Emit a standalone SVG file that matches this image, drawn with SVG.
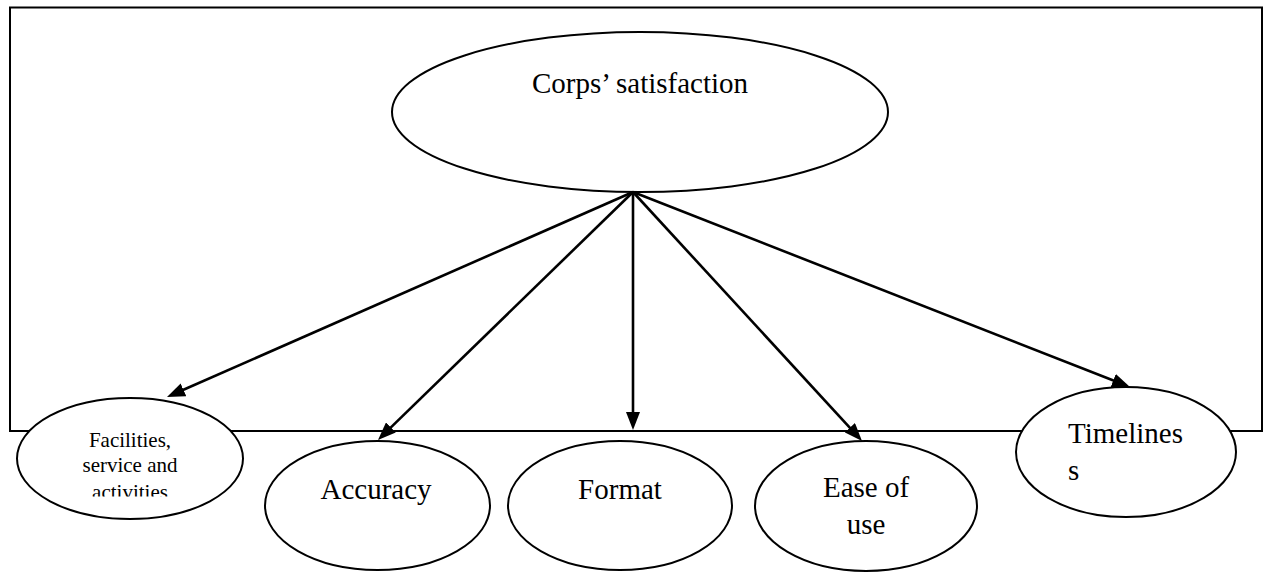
<svg xmlns="http://www.w3.org/2000/svg" width="1271" height="572" viewBox="0 0 1271 572">
  <style>
    .frame { fill: none; stroke: #000; stroke-width: 2; }
    .node { fill: #fff; stroke: #000; stroke-width: 2; }
    .lbl { font-family: 'Liberation Serif', 'DejaVu Serif', serif; font-size: 29px; fill: #000; }
    .sm { font-size: 21px; }
    .edge { stroke: #000; stroke-width: 2.6; fill: none; marker-end: url(#arr); }
  </style>
  <defs>
    <marker id="arr" markerUnits="userSpaceOnUse" markerWidth="18" markerHeight="14" refX="5" refY="7" orient="auto">
      <path d="M0,0 L18,7 L0,14 z" fill="#000"/>
    </marker>
    <clipPath id="clipFac">
      <rect x="0" y="380" width="260" height="116.5"/>
    </clipPath>
  </defs>
  <rect width="1271" height="572" fill="#fff"/>
  <rect class="frame" x="10" y="7.5" width="1252" height="423.5"/>

  <g id="node-corps">
    <ellipse class="node" cx="640" cy="112" rx="248" ry="80"/>
    <text class="lbl" font-family="Liberation Serif, serif" x="640" y="93" text-anchor="middle">Corps’ satisfaction</text>
  </g>
  <g id="node-facilities">
    <ellipse class="node" cx="130" cy="458.5" rx="113" ry="60.5"/>
    <g clip-path="url(#clipFac)">
      <text class="lbl sm" font-family="Liberation Serif, serif" text-anchor="middle"><tspan x="130" y="447">Facilities,</tspan><tspan x="130" y="472">service and</tspan><tspan x="130" y="499">activities</tspan></text>
    </g>
  </g>
  <g id="node-accuracy">
    <ellipse class="node" cx="377.5" cy="505.5" rx="112.5" ry="64.5"/>
    <text class="lbl" font-family="Liberation Serif, serif" x="376" y="499" text-anchor="middle">Accuracy</text>
  </g>
  <g id="node-format">
    <ellipse class="node" cx="620" cy="505.5" rx="112" ry="64.5"/>
    <text class="lbl" font-family="Liberation Serif, serif" x="620" y="499" text-anchor="middle">Format</text>
  </g>
  <g id="node-ease">
    <ellipse class="node" cx="866" cy="506" rx="111" ry="65"/>
    <text class="lbl" font-family="Liberation Serif, serif" text-anchor="middle"><tspan x="866" y="497">Ease of</tspan><tspan x="866" y="534">use</tspan></text>
  </g>
  <g id="node-timeliness">
    <ellipse class="node" cx="1126" cy="452" rx="110" ry="65"/>
    <text class="lbl" font-family="Liberation Serif, serif"><tspan x="1068" y="443">Timelines</tspan><tspan x="1068" y="480">s</tspan></text>
  </g>

  <g id="connectors">
    <line class="edge" x1="633" y1="192" x2="178.9" y2="391.8"/>
    <line class="edge" x1="633" y1="192" x2="387.3" y2="430.9"/>
    <line class="edge" x1="633" y1="192" x2="633" y2="417"/>
    <line class="edge" x1="633" y1="192" x2="853.2" y2="431.4"/>
    <line class="edge" x1="633" y1="192" x2="1117.9" y2="382.3"/>
  </g>
</svg>
